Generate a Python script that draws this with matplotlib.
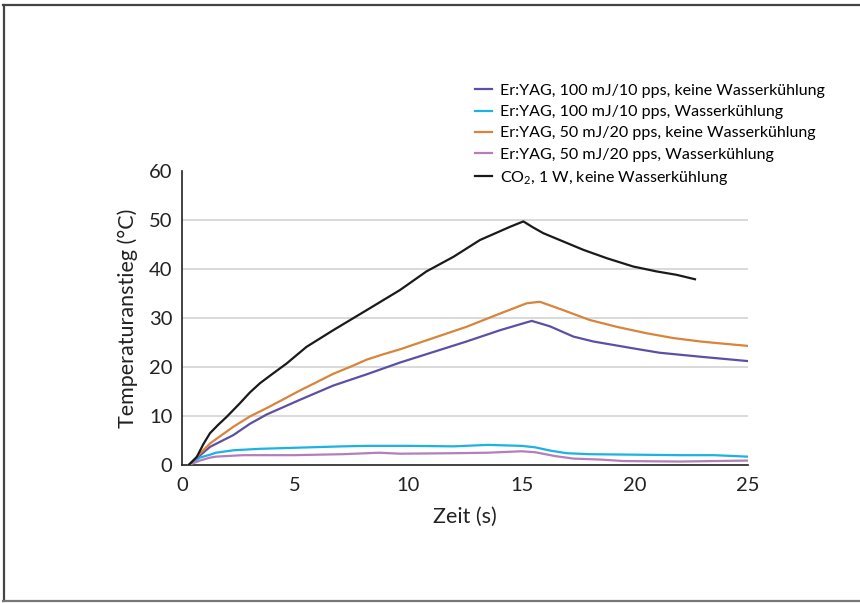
import matplotlib
matplotlib.use("Agg")
from matplotlib import pyplot as plt
from matplotlib.lines import Line2D

# data (time in s, temperature rise in °C)
t_er100_nc = [0.3, 1.24, 2.27, 3.0, 3.74, 5.21, 6.68, 8.16, 9.63, 12.57, 14.05, 15.0, 15.45, 16.25, 17.29, 18.17, 19.93, 21.1, 22.88, 25.0]
er100_nc = [0, 3.7, 6.1, 8.4, 10.3, 13.3, 16.2, 18.5, 20.9, 25.2, 27.5, 28.8, 29.4, 28.3, 26.2, 25.2, 23.8, 22.9, 22.1, 21.2]

t_er100_c = [0.3, 0.79, 1.24, 1.5, 1.97, 2.27, 3.45, 4.92, 7.1, 8.16, 10.0, 12.0, 13.5, 15.0, 15.6, 16.3, 17.0, 18.0, 20.0, 22.0, 23.5, 25.0]
er100_c = [0, 1.5, 2.1, 2.5, 2.8, 3.0, 3.3, 3.5, 3.8, 3.9, 3.9, 3.8, 4.1, 3.9, 3.6, 2.9, 2.4, 2.2, 2.1, 2.0, 2.0, 1.7]

t_er50_nc = [0.3, 1.24, 2.27, 3.0, 3.74, 4.48, 5.21, 5.95, 6.68, 7.42, 8.16, 8.9, 9.63, 11.1, 12.57, 14.05, 15.23, 15.81, 16.84, 18.0, 19.2, 20.5, 21.7, 22.9, 23.8, 25.0]
er50_nc = [0, 4.4, 7.8, 9.9, 11.6, 13.4, 15.2, 16.9, 18.6, 20.0, 21.5, 22.6, 23.6, 25.9, 28.2, 30.9, 33.0, 33.3, 31.6, 29.6, 28.2, 26.9, 25.9, 25.2, 24.8, 24.3]

t_er50_c = [0.3, 0.79, 1.24, 1.5, 2.27, 2.71, 4.92, 7.1, 8.7, 9.63, 12.0, 13.5, 15.0, 15.6, 16.5, 17.3, 18.5, 19.5, 22.0, 25.0]
er50_c = [0, 0.9, 1.5, 1.7, 1.9, 2.0, 2.0, 2.2, 2.5, 2.3, 2.4, 2.5, 2.8, 2.6, 1.8, 1.3, 1.1, 0.8, 0.7, 0.9]

t_co2 = [0.3, 0.65, 0.95, 1.24, 1.6, 1.97, 2.56, 3.0, 3.45, 4.0, 4.62, 5.5, 6.68, 8.16, 9.63, 10.8, 12.0, 13.16, 14.49, 15.08, 15.5, 15.96, 17.73, 18.76, 19.93, 20.96, 21.85, 22.66]
co2 = [0, 1.6, 4.3, 6.5, 8.2, 9.8, 12.6, 14.8, 16.7, 18.6, 20.7, 24.1, 27.5, 31.6, 35.7, 39.5, 42.5, 45.9, 48.6, 49.7, 48.5, 47.3, 43.9, 42.2, 40.5, 39.5, 38.8, 37.9]

labels = ["Er:YAG, 100 mJ/10 pps, keine Wasserkühlung",
          "Er:YAG, 100 mJ/10 pps, Wasserkühlung",
          "Er:YAG, 50 mJ/20 pps, keine Wasserkühlung",
          "Er:YAG, 50 mJ/20 pps, Wasserkühlung",
          "CO$_{2}$, 1 W, keine Wasserkühlung"]
colors = ["#5d4fa3", "#1bb2e4", "#d8843b", "#b57dba", "#1a1a1a"]

plt.rcParams['font.family'] = ['Lato', 'DejaVu Sans']
plt.rcParams['mathtext.default'] = 'regular'

fig = plt.figure(figsize=(8.6, 6.03), dpi=100)
ax = fig.add_axes([0.2116, 0.2289, 0.6581, 0.4876])

series = [(t_er100_nc, er100_nc), (t_er100_c, er100_c), (t_er50_nc, er50_nc),
          (t_er50_c, er50_c), (t_co2, co2)]
for (t, v), c, lab in zip(series, colors, labels):
    ax.plot(t, v, color=c, linewidth=1.6, label=lab, zorder=3)

ax.set_xlim(0, 25)
ax.set_ylim(0, 60)
ax.set_xticks([0, 5, 10, 15, 20, 25])
ax.set_yticks([0, 10, 20, 30, 40, 50, 60])
for y in [10, 20, 30, 40, 50]:
    ax.axhline(y, color="#d9d9d9", linewidth=1.4, zorder=1)

for s in ["top", "right"]:
    ax.spines[s].set_visible(False)
for s in ["left", "bottom"]:
    ax.spines[s].set_linewidth(1.2)
    ax.spines[s].set_color("#222222")
ax.tick_params(axis="both", length=0, labelsize=14.5, colors="#222222")
ax.tick_params(axis="x", pad=9)
ax.tick_params(axis="y", pad=7)

ax.set_xlabel("Zeit (s)", fontsize=15.5, color="#222222", labelpad=9)
ax.set_ylabel("Temperaturanstieg (°C)", fontsize=15.5, color="#222222", labelpad=8)

ax.legend(loc="upper left", bbox_to_anchor=(0.552, 0.861), bbox_transform=fig.transFigure,
          frameon=False, fontsize=11.5, handlelength=1.1, handletextpad=0.5,
          labelspacing=0.44, borderaxespad=0, borderpad=0)

# outer frame of the picture
fig.add_artist(Line2D([0.004, 1.0], [0.9925, 0.9925], transform=fig.transFigure, color="#444444", linewidth=1.6))
fig.add_artist(Line2D([0.0045, 0.0045], [0.0025, 0.9925], transform=fig.transFigure, color="#444444", linewidth=1.6))
fig.add_artist(Line2D([0.004, 1.0], [0.0025, 0.0025], transform=fig.transFigure, color="#777777", linewidth=1.6))

fig.savefig("out.png", dpi=100)
